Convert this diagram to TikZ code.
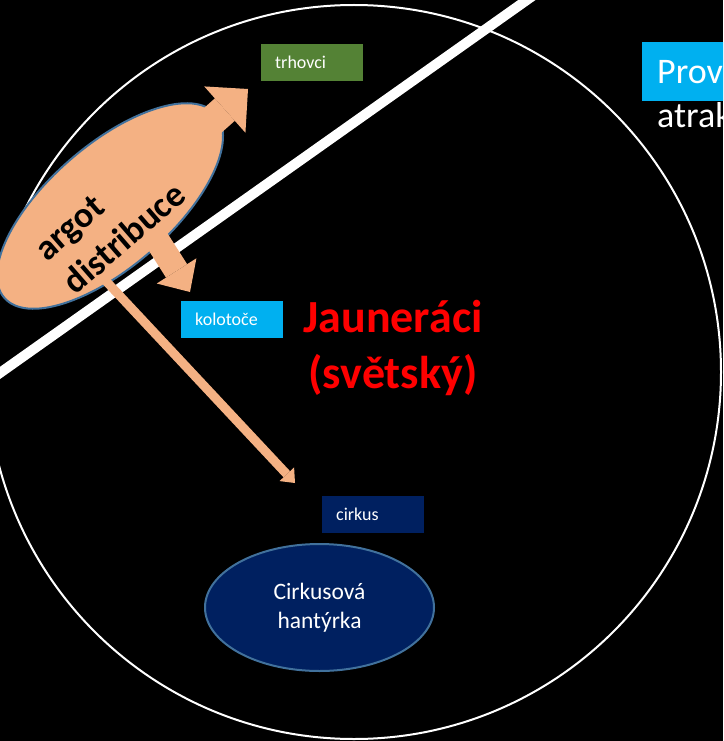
\documentclass[tikz,border=0pt]{standalone}
\usepackage{fontspec}
\setmainfont{Carlito}
\usetikzlibrary{arrows.meta,shapes.geometric}
\definecolor{trhgreen}{HTML}{548235}
\definecolor{kolocyan}{HTML}{00B0F0}
\definecolor{cirknavy}{HTML}{002060}
\definecolor{argotorange}{HTML}{F4B183}
\definecolor{edgeblue}{HTML}{41719C}
\tikzset{
  labelbox/.style={fill=#1, text=white, anchor=north west, minimum height=37pt, text width=74pt,
    inner xsep=14pt, inner ysep=0pt, align=left, font=\fontsize{18}{20}\selectfont},
  bigarrow/.style={argotorange, line cap=butt},
  oval/.style={ellipse, draw=edgeblue, line width=2pt, inner sep=0pt}
}

\begin{document}
\begin{tikzpicture}[x=1pt, y=-1pt]
\useasboundingbox (0,0) rectangle (723,741);
\clip (0,0) rectangle (723,741);
\fill[black] (0,0) rectangle (723,741);
\draw[white, line width=2pt] (354,372) circle (367pt);
\coordinate (cutA) at (-10,380);
\coordinate (cutB) at (541,-10);
\draw[white, line width=10pt] (cutA) -- (cutB);

\node (argot) [oval, fill=argotorange, minimum width=280pt, minimum height=122pt, rotate=41] at (110,206) {};
\coordinate (trhfoot) at (185,145);
\coordinate (trhtip) at (248,89);
\coordinate (kolofoot) at (155,237);
\coordinate (kolotip) at (190,292);
\coordinate (cirkfoot) at (105,280);
\coordinate (cirktip) at (295,483);
\draw[bigarrow, line width=30pt, -{Triangle[length=31pt, width=62pt, line width=0pt]}] (trhfoot) -- (trhtip);
\draw[bigarrow, line width=25pt, -{Triangle[length=25pt, width=47pt, line width=0pt]}] (kolofoot) -- (kolotip);
\draw[bigarrow, line width=9pt, -{Triangle[length=12pt, width=20pt, line width=0pt]}] (cirkfoot) -- (cirktip);
\node (argottext) [rotate=41, align=left, font=\fontsize{36}{44}\selectfont\bfseries] at (110,222) {argot\\distribuce};

\node (trhovci) [labelbox=trhgreen] at (261,44) {trhovci};
\node (kolotoce) [labelbox=kolocyan] at (181,301) {kolotoče};
\node (cirkus) [labelbox=cirknavy] at (322,496) {cirkus};
\node (jauneraci) [text=red, align=center, font=\fontsize{46}{56}\selectfont\bfseries] at (393,348) {Jauneráci\\(světský)};
\node (hantyrka) [oval, fill=cirknavy, minimum width=229pt, minimum height=127pt, text=white, align=center,
  font=\fontsize{23.5}{29}\selectfont] at (319.5,607.5) {Cirkusová\\hantýrka};

\node (prov) [fill=kolocyan, text=white, anchor=north west, minimum height=59pt, text width=80pt, inner xsep=15pt,
  inner ysep=0pt, align=left, font=\fontsize{36}{40}\selectfont] at (642,42) {Prov};
\node (atrak) [text=white, anchor=base west, inner sep=0pt, font=\fontsize{36}{40}\selectfont] at (657,128) {atrak};
\end{tikzpicture}
\end{document}
